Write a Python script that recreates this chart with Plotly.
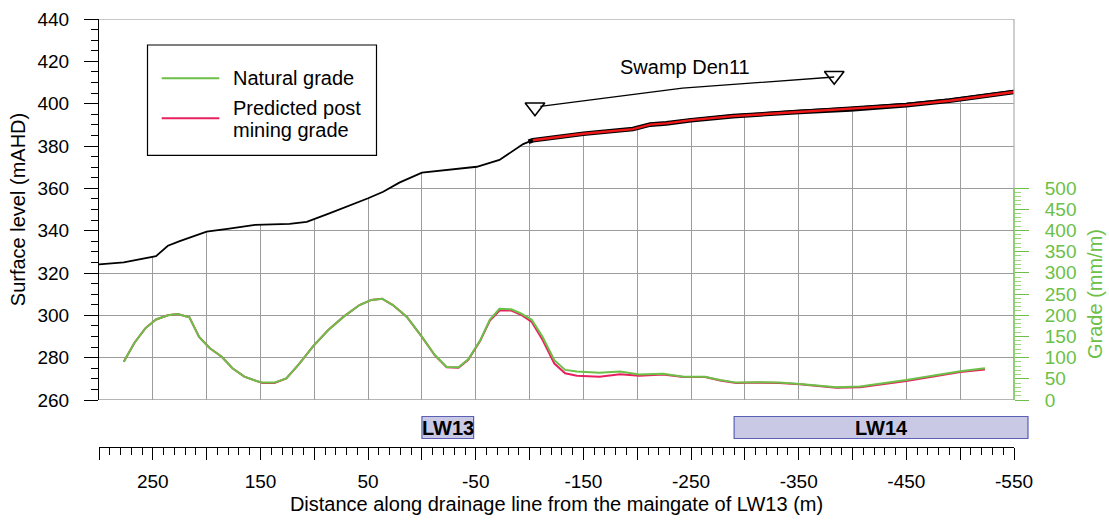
import plotly.graph_objects as go

# ---------------- data ----------------
surface_dist = [300, 277, 247, 236, 225, 200, 179, 155, 123, 107, 86, 70, 50, 36, 21, 0,
                -51, -72, -84, -94, -103, -150, -196, -212, -227, -250, -289, -351, -398,
                -450, -490, -550]
natural_surface = [324.1, 325.0, 328.0, 332.9, 335.1, 339.5, 341.0, 342.7, 343.2, 344.2,
                   348.2, 351.3, 355.3, 358.4, 362.7, 367.4, 370.2, 373.4, 377.3, 380.9,
                   382.8, 386.0, 388.3, 390.4, 391.0, 392.6, 394.6, 396.7, 398.0, 400.0,
                   402.1, 406.1]

predicted_dist = [-99, -103, -150, -196, -212, -227, -250, -289, -351, -398, -450, -490, -550]
predicted_surface = [382.0, 382.7, 385.8, 388.0, 390.1, 390.7, 392.2, 394.1, 396.1, 397.3,
                     399.3, 401.4, 405.5]

grade_dist = [277, 267, 257, 247, 236, 227, 216, 207, 197, 186, 176, 165, 154, 148, 137,
              126, 114, 101, 87, 73, 58, 47, 37, 27, 21, 14, 0, -12, -23, -34, -43, -54,
              -63, -72, -83, -92, -102, -112, -123, -133, -144, -165, -184, -202, -224,
              -243, -263, -277, -292, -314, -332, -351, -385, -407, -450, -478, -500, -523]
natural_grade = [90, 135, 169, 190, 200, 203, 195, 149, 122, 102, 75, 55, 45, 41, 41, 51,
                 85, 127, 165, 196, 224, 236, 239, 224, 211, 196, 149, 106, 78, 77, 96, 140,
                 189, 215, 214, 204, 189, 149, 94, 71, 67, 64, 67, 60, 62, 55, 55, 47, 41,
                 42, 41, 38, 30, 32, 47, 59, 68, 75]
predicted_grade = [90, 135, 169, 190, 200, 203, 195, 149, 122, 102, 75, 55, 45, 40, 40, 51,
                   85, 127, 165, 196, 224, 236, 239, 224, 211, 196, 149, 105, 77, 76, 95, 139,
                   187, 211, 211, 201, 184, 142, 86, 63, 57, 55, 61, 57, 60, 54, 54, 46, 40,
                   41, 40, 37, 29, 30, 45, 57, 66, 72]

swamp_line_dist = [-110, -242, -383]
swamp_line_level = [398.7, 407.3, 412.6]
swamp_marker_dist = [-105, -383]
swamp_marker_level = [398.3, 413.2]
swamp_label = "Swamp Den11"
swamp_label_dist = -244
swamp_label_level = 417.5

lw_names = ["LW13", "LW14"]
lw_start = [0, -290]
lw_end = [-48, -563]

x_range = [300, -550]
x_major_ticks = list(range(300, -551, -50))
x_label_values = [250, 150, 50, -50, -150, -250, -350, -450, -550]
level_ticks = list(range(260, 441, 20))
grade_ticks = list(range(0, 501, 50))

# ---------------- layout constants ----------------
W, H = 1109, 528
ML, MR, MT, MB = 99, 95, 19, 81
PW, PH = W - ML - MR, H - MT - MB
FONT = "Arial, Liberation Sans, sans-serif"
GREEN = "#6cbf47"
PINK = "#e8205f"
GRID = "#9c9c9c"
FRAME = "#b4b4b4"


def px_x(p):
    return (p - ML) / PW


def px_y(p):
    return (H - MB - p) / PH


def data_to_paper_x(d):
    # linear map of the (reversed) distance axis onto paper coordinates
    return (d - x_range[0]) / (x_range[1] - x_range[0])


y_dom0 = px_y(400)
grade_top_frac = px_y(188)
y2_max = 500 * (1 - y_dom0) / (grade_top_frac - y_dom0)

fig = go.Figure()

# white mask above the ground surface (hides the grid above the profile)
fig.add_trace(go.Scatter(
    x=surface_dist + [surface_dist[-1], surface_dist[0]],
    y=natural_surface + [440, 440],
    fill="toself", fillcolor="white", mode="none", hoverinfo="skip",
    showlegend=False))

fig.add_trace(go.Scatter(x=surface_dist, y=natural_surface, mode="lines",
                         line=dict(color="black", width=1.8), showlegend=False,
                         name="Natural surface"))
fig.add_trace(go.Scatter(x=predicted_dist, y=predicted_surface, mode="lines",
                         line=dict(color="black", width=4.6), showlegend=False,
                         hoverinfo="skip"))
fig.add_trace(go.Scatter(x=predicted_dist[1:], y=predicted_surface[1:], mode="lines",
                         line=dict(color="#f01818", width=2.4), showlegend=False,
                         name="Predicted post mining surface"))

# swamp
fig.add_trace(go.Scatter(x=swamp_line_dist, y=swamp_line_level, mode="lines",
                         line=dict(color="black", width=1.3), showlegend=False))
fig.add_trace(go.Scatter(x=swamp_marker_dist, y=swamp_marker_level, mode="markers",
                         marker=dict(symbol="triangle-down-open", size=17,
                                     color="black", line=dict(width=1.6, color="black")),
                         showlegend=False))

# grades on secondary axis
fig.add_trace(go.Scatter(x=grade_dist, y=predicted_grade, mode="lines", yaxis="y2",
                         line=dict(color=PINK, width=2), name="Predicted post mining grade",
                         showlegend=False))
fig.add_trace(go.Scatter(x=grade_dist, y=natural_grade, mode="lines", yaxis="y2",
                         line=dict(color=GREEN, width=2), name="Natural grade",
                         showlegend=False))

shapes = []
annotations = []

# frame lines
shapes.append(dict(type="line", xref="paper", yref="y", x0=0, x1=1, y0=440, y1=440,
                   line=dict(color=FRAME, width=1.3), layer="above"))
shapes.append(dict(type="line", xref="paper", yref="y", x0=0, x1=1, y0=260, y1=260,
                   line=dict(color=GRID, width=1.3), layer="above"))
shapes.append(dict(type="line", xref="paper", yref="y2", x0=1, x1=1, y0=500, y1=y2_max,
                   line=dict(color=FRAME, width=1.3), layer="above"))
shapes.append(dict(type="line", xref="paper", yref="y2", x0=1, x1=1, y0=0, y1=500,
                   line=dict(color=GREEN, width=1.5), layer="above"))

# longwall panels (paper x so LW14 may run past the axis end)
for name, a, b in zip(lw_names, lw_start, lw_end):
    xa, xb = data_to_paper_x(a), data_to_paper_x(b)
    shapes.append(dict(type="rect", xref="paper", yref="paper", x0=xa, x1=xb,
                       y0=px_y(438.5), y1=px_y(416.5),
                       fillcolor="#c9c9e6", line=dict(color="#5b60b5", width=1.2),
                       layer="above"))
    annotations.append(dict(x=(xa + xb) / 2, y=px_y(427.5), xref="paper", yref="paper",
                            text="<b>%s</b>" % name, showarrow=False,
                            font=dict(family=FONT, size=20, color="black"),
                            xanchor="center", yanchor="middle"))

# manual legend
shapes.append(dict(type="rect", xref="paper", yref="paper",
                   x0=px_x(147.5), x1=px_x(376.5), y0=px_y(155.3), y1=px_y(45),
                   fillcolor="white", line=dict(color="black", width=1.2), layer="above"))
shapes.append(dict(type="line", xref="paper", yref="paper", x0=px_x(161.7), x1=px_x(219.3),
                   y0=px_y(78.3), y1=px_y(78.3), line=dict(color=GREEN, width=2),
                   layer="above"))
shapes.append(dict(type="line", xref="paper", yref="paper", x0=px_x(161.7), x1=px_x(219.3),
                   y0=px_y(118.3), y1=px_y(118.3), line=dict(color=PINK, width=2),
                   layer="above"))
for txt, py in [("Natural grade", 78.3), ("Predicted post", 108), ("mining grade", 130)]:
    annotations.append(dict(x=px_x(231), y=px_y(py), xref="paper", yref="paper",
                            text=txt, showarrow=False, xanchor="left", yanchor="middle",
                            font=dict(family=FONT, size=20, color="black")))

# swamp label
annotations.append(dict(x=swamp_label_dist, y=swamp_label_level, xref="x", yref="y",
                        text=swamp_label, showarrow=False,
                        font=dict(family=FONT, size=20, color="black")))

# grade axis title
annotations.append(dict(x=px_x(1095), y=250, xref="paper", yref="y2",
                        text="Grade (mm/m)", textangle=-90, showarrow=False,
                        xanchor="center", yanchor="middle",
                        font=dict(family=FONT, size=20, color=GREEN)))

fig.update_layout(
    width=W, height=H,
    margin=dict(l=ML, r=MR, t=MT, b=MB, autoexpand=False),
    paper_bgcolor="white", plot_bgcolor="white",
    font=dict(family=FONT, size=19, color="black"),
    showlegend=False,
    shapes=shapes, annotations=annotations,
    xaxis=dict(
        range=x_range, anchor="free", position=0,
        tickmode="array", tickvals=x_major_ticks,
        ticktext=[str(v) if v in x_label_values else "" for v in x_major_ticks],
        ticks="outside", ticklen=12, tickcolor="black", tickwidth=1,
        ticklabelstandoff=5,
        minor=dict(dtick=10, tick0=0, ticks="outside", ticklen=7, tickcolor="black",
                   showgrid=False),
        showline=True, linecolor="black", linewidth=1,
        showgrid=True, gridcolor=GRID, gridwidth=1.2, zeroline=False,
        tickfont=dict(family=FONT, size=19, color="black"),
        title=dict(text="Distance along drainage line from the maingate of LW13 (m)",
                   font=dict(family=FONT, size=20, color="black"), standoff=6),
    ),
    yaxis=dict(
        domain=[y_dom0, 1], range=[260, 440], anchor="x",
        tickmode="array", tickvals=level_ticks,
        ticks="outside", ticklen=14, tickcolor="black",
        ticklabelstandoff=11,
        minor=dict(dtick=5, tick0=260, ticks="outside", ticklen=7, tickcolor="black",
                   showgrid=False),
        showline=True, linecolor="black", linewidth=1,
        showgrid=True, gridcolor=GRID, gridwidth=1.2, zeroline=False,
        tickfont=dict(family=FONT, size=19, color="black"),
        title=dict(text="Surface level (mAHD)",
                   font=dict(family=FONT, size=20, color="black"), standoff=6),
    ),
    yaxis2=dict(
        overlaying="y", side="right", anchor="x", range=[0, y2_max],
        tickmode="array", tickvals=grade_ticks,
        ticks="outside", ticklen=14, tickcolor=GREEN,
        ticklabelstandoff=12,
        minor=dict(tickmode="array",
                   tickvals=[v for v in range(0, 501, 10) if v % 50],
                   ticks="outside", ticklen=6, tickcolor="#9ad680", showgrid=False),
        showline=False, showgrid=False, zeroline=False,
        tickfont=dict(family=FONT, size=19, color=GREEN),
    ),
)

fig.write_html("out.html")
